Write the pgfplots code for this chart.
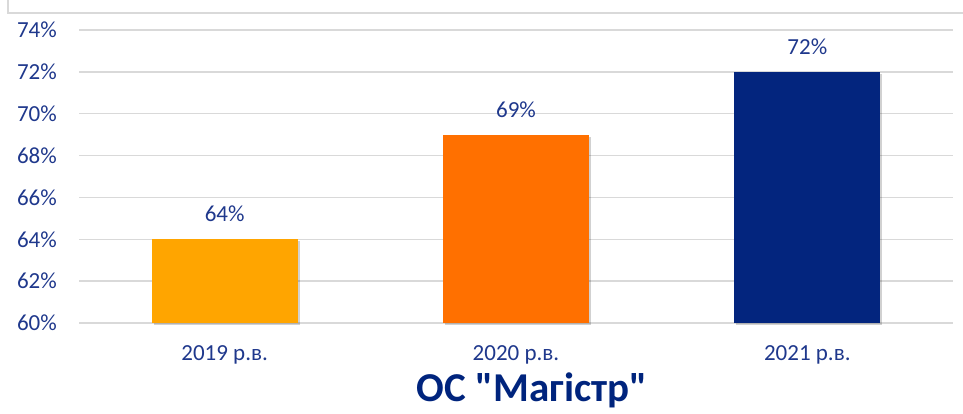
\documentclass[border=0pt]{standalone}
\usepackage{pgfplots}
\pgfplotsset{compat=1.18}
\usetikzlibrary{shadows}
\usepackage{fontspec}
\setmainfont{Carlito}
\newfontfamily\titlefont{Carlito}[Ligatures=TeXOff]
\definecolor{txt}{RGB}{31,56,140}
\definecolor{ttl}{RGB}{0,36,125}
\definecolor{grd}{RGB}{217,217,217}
\definecolor{cA}{RGB}{255,165,0}
\definecolor{cB}{RGB}{255,112,0}
\definecolor{cC}{RGB}{3,37,126}
\begin{document}
\begin{tikzpicture}[x=1pt,y=1pt]
\path[use as bounding box] (0,0) rectangle (963,414);
\draw[grd, line width=1.5pt] (8,420) -- (8,401) -- (970,401);
\begin{axis}[
  at={(79pt,91pt)}, anchor=south west,
  scale only axis, width=874pt, height=293pt,
  ymin=60, ymax=74, xmin=-0.5, xmax=2.5,
  axis line style={draw=none},
  ytick={60,62,64,66,68,70,72,74},
  yticklabels={60\%,62\%,64\%,66\%,68\%,70\%,72\%,74\%},
  xtick={0,1,2},
  xticklabels={2019 р.в.,2020 р.в.,2021 р.в.},
  major tick length=0pt,
  ymajorgrids, grid style={grd, line width=1.5pt},
  tick label style={font=\fontsize{23}{26}\selectfont, text=txt, inner sep=0pt},
  yticklabel style={xshift=-22pt},
  xticklabel style={yshift=-22pt},
  /pgf/number format/assume math mode=true,
  ybar, bar width=146pt,
  nodes near coords={\pgfmathprintnumber{\pgfplotspointmeta}\%},
  nodes near coords style={font=\fontsize{23}{26}\selectfont, text=txt, inner sep=0pt, yshift=17pt, anchor=south},
  clip=false,
]
\addplot[fill=cA, draw=none, bar shift=0pt, drop shadow={shadow xshift=2pt, shadow yshift=-2pt, opacity=0.18, fill=black}] coordinates {(0,64)};
\addplot[fill=cB, draw=none, bar shift=0pt, drop shadow={shadow xshift=2pt, shadow yshift=-2pt, opacity=0.18, fill=black}] coordinates {(1,69)};
\addplot[fill=cC, draw=none, bar shift=0pt, drop shadow={shadow xshift=2pt, shadow yshift=-2pt, opacity=0.18, fill=black}] coordinates {(2,72)};
\end{axis}
\node[anchor=base, text=ttl, font=\titlefont\fontsize{41}{44}\selectfont\bfseries, inner sep=0pt] at (532,12) {ОС "Магістр"};
\end{tikzpicture}
\end{document}
